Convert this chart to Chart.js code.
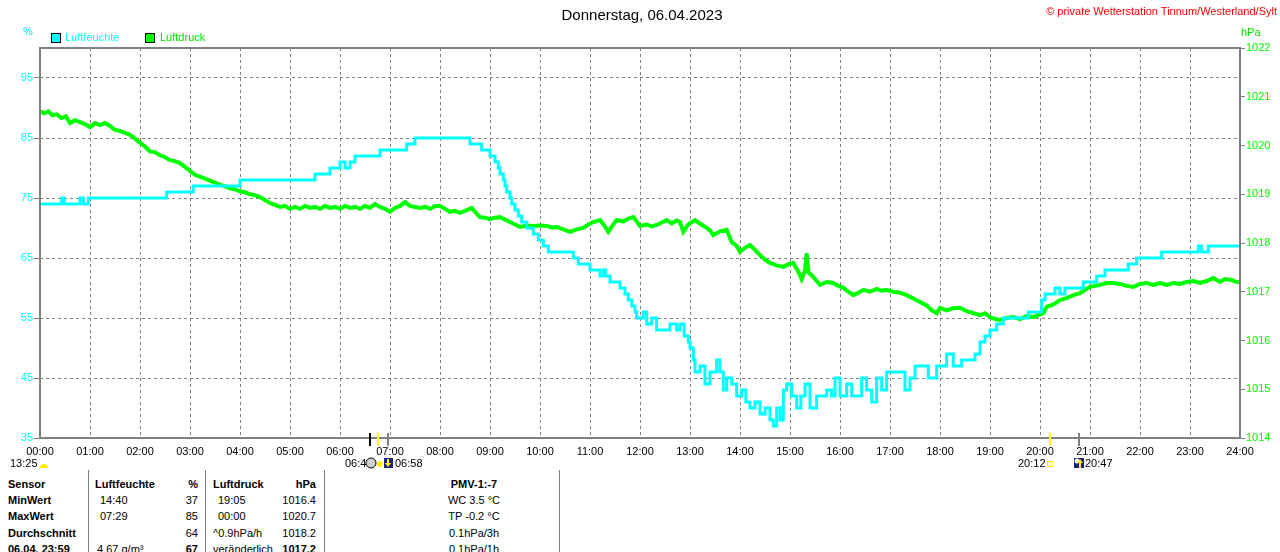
<!DOCTYPE html>
<html>
<head>
<meta charset="utf-8">
<script src="https://cdn.jsdelivr.net/npm/chart.js@4.4.1/dist/chart.umd.min.js"></script>
<style>
  body { margin: 0; background: #fff; font-family: "Liberation Sans", Arial, sans-serif; font-size: 11px; }
  #wrap { position: relative; width: 1280px; height: 552px; overflow: hidden; }
  #chart { position: absolute; left: 0; top: 0; }
  .t { position: absolute; white-space: nowrap; line-height: 13px; }
  .b { font-weight: bold; }
  .r { text-align: right; }
  .sep { position: absolute; top: 470px; width: 1px; height: 82px; background: #808080; }
  .box { position: absolute; width: 8px; height: 8px; border: 1px solid #000; }
</style>
</head>
<body>
<div id="wrap">
  <canvas id="chart" width="1280" height="470"></canvas>

  <div class="t" style="left:0;width:1284px;top:6px;font-size:15px;line-height:17px;text-align:center;">Donnerstag, 06.04.2023</div>
  <div class="t" style="right:3px;top:5px;font-size:11px;color:#ff0000;">© private Wetterstation Tinnum/Westerland/Sylt</div>

  <div class="t" style="left:23px;top:25px;color:#00e8f0;">%</div>
  <div class="t" style="left:1241px;top:26px;color:#00e000;">hPa</div>
  <div class="box" style="left:51px;top:33px;background:#00ffff;"></div>
  <div class="t" style="left:65px;top:31px;color:#00ffff;">Luftfeuchte</div>
  <div class="box" style="left:145px;top:33px;background:#00ff00;"></div>
  <div class="t" style="left:160px;top:31px;color:#00e000;">Luftdruck</div>

  <div class="t" style="left:10px;top:457px;">13:25</div>
  <div class="t" style="left:345px;top:457px;">06:4</div>
  <div class="t" style="left:395px;top:457px;">06:58</div>
  <div class="t" style="left:1018px;top:457px;">20:12</div>
  <div class="t" style="left:1085px;top:457px;">20:47</div>

  <div class="sep" style="left:88px;"></div>
  <div class="sep" style="left:205px;"></div>
  <div class="sep" style="left:324px;"></div>
  <div class="sep" style="left:559px;"></div>

  <div class="t b" style="left:8px;top:478px;">Sensor</div>
  <div class="t b" style="left:8px;top:494px;">MinWert</div>
  <div class="t b" style="left:8px;top:510px;">MaxWert</div>
  <div class="t b" style="left:8px;top:527px;">Durchschnitt</div>
  <div class="t b" style="left:8px;top:543px;">06.04. 23:59</div>

  <div class="t b" style="left:95px;top:478px;">Luftfeuchte</div>
  <div class="t" style="left:100px;top:494px;">14:40</div>
  <div class="t" style="left:100px;top:510px;">07:29</div>
  <div class="t" style="left:97px;top:543px;">4.67 g/m³</div>
  <div class="t b r" style="right:1082px;top:478px;">%</div>
  <div class="t r" style="right:1082px;top:494px;">37</div>
  <div class="t r" style="right:1082px;top:510px;">85</div>
  <div class="t r" style="right:1082px;top:527px;">64</div>
  <div class="t b r" style="right:1082px;top:543px;">67</div>

  <div class="t b" style="left:213px;top:478px;">Luftdruck</div>
  <div class="t" style="left:218px;top:494px;">19:05</div>
  <div class="t" style="left:218px;top:510px;">00:00</div>
  <div class="t" style="left:213px;top:527px;">^0.9hPa/h</div>
  <div class="t" style="left:213px;top:543px;">veränderlich</div>
  <div class="t b r" style="right:964px;top:478px;">hPa</div>
  <div class="t r" style="right:964px;top:494px;">1016.4</div>
  <div class="t r" style="right:964px;top:510px;">1020.7</div>
  <div class="t r" style="right:964px;top:527px;">1018.2</div>
  <div class="t b r" style="right:964px;top:543px;">1017.2</div>

  <div class="t b" style="left:324px;width:300px;text-align:center;top:478px;">PMV-1:-7</div>
  <div class="t" style="left:324px;width:300px;text-align:center;top:494px;">WC 3.5 °C</div>
  <div class="t" style="left:324px;width:300px;text-align:center;top:510px;">TP -0.2 °C</div>
  <div class="t" style="left:324px;width:300px;text-align:center;top:527px;">0.1hPa/3h</div>
  <div class="t" style="left:324px;width:300px;text-align:center;top:543px;">0.1hPa/1h</div>
</div>

<script>
// humidity (%) - minute of day where the value changes, and the new value
const humMin = [0, 26, 29, 48, 52, 58, 152, 184, 240, 330, 348, 360, 366, 372, 378, 408, 440, 450,
  516, 530, 540, 546, 550, 552, 556, 558, 560, 564, 566, 570, 574, 578, 584, 592, 598, 604, 610,
  640, 646, 660, 672, 676, 679, 684, 696, 702, 706, 710, 714, 716, 724, 728, 734, 740, 756, 764,
  768, 773, 778, 780, 784, 786, 792, 798, 804, 812, 816, 820, 824, 830, 836, 842, 847, 852, 858,
  864, 870, 876, 880, 884, 888, 892, 896, 902, 908, 913, 918, 924, 932, 944, 950, 954, 960, 968,
  974, 986, 992, 998, 1004, 1010, 1016, 1038, 1044, 1050, 1066, 1076, 1088, 1096, 1106, 1122,
  1128, 1134, 1140, 1148, 1156, 1186, 1202, 1206, 1218, 1224, 1230, 1252, 1268, 1278, 1306,
  1316, 1346, 1390, 1394, 1402, 1440];
const humVal = [74, 75, 74, 75, 74, 75, 76, 77, 78, 79, 80, 81, 80, 81, 82, 83, 84, 85,
  84, 83, 82, 81, 80, 79, 78, 77, 76, 75, 74, 73, 72, 71, 70, 69, 68, 67, 66,
  65, 64, 63, 62, 63, 62, 61, 60, 59, 58, 57, 56, 55, 56, 54, 55, 53, 54, 53,
  54, 52, 51, 50, 48, 46, 47, 44, 46, 48, 46, 43, 45, 44, 42, 43, 41, 40, 41,
  39, 40, 38, 37, 40, 38, 43, 44, 42, 40, 42, 44, 40, 42, 43, 42, 45, 42, 44,
  42, 45, 43, 41, 45, 43, 46, 43, 45, 47, 45, 47, 49, 47, 48, 49,
  51, 52, 53, 54, 55, 56, 58, 59, 60, 59, 60, 61, 62, 63, 64,
  65, 66, 67, 66, 67, 67];

// air pressure (hPa)
const presMin = [0, 5, 10, 15, 20, 26, 31, 36, 42, 48,
  54, 60, 66, 72, 78, 84, 90, 96, 102, 108,
  114, 120, 126, 132, 138, 144, 150, 156, 162, 168,
  174, 180, 186, 192, 198, 204, 210, 216, 222, 228,
  234, 240, 246, 252, 258, 264, 270, 276, 282, 288,
  294, 300, 306, 312, 318, 324, 330, 336, 342, 348,
  354, 360, 366, 372, 378, 384, 390, 396, 402, 408,
  414, 420, 426, 432, 438, 444, 450, 456, 462, 468,
  474, 480, 486, 492, 498, 504, 510, 518, 524, 528,
  534, 540, 546, 552, 558, 564, 570, 576, 584, 592,
  600, 608, 614, 620, 628, 636, 644, 652, 658, 664,
  672, 678, 682, 688, 692, 700, 706, 712, 716, 720,
  728, 734, 740, 746, 752, 758, 764, 768, 772, 778,
  786, 792, 800, 804, 808, 816, 824, 830, 836, 840,
  846, 852, 858, 864, 870, 876, 884, 892, 898, 904,
  910, 914, 918, 920, 922, 926, 932, 936, 944, 952,
  958, 964, 970, 976, 982, 988, 996, 1004, 1010, 1016,
  1024, 1032, 1040, 1048, 1056, 1064, 1070, 1076, 1080, 1088,
  1096, 1104, 1112, 1120, 1128, 1134, 1140, 1146, 1152, 1160,
  1168, 1176, 1184, 1192, 1198, 1204, 1208, 1216, 1224, 1230,
  1236, 1242, 1248, 1254, 1260, 1266, 1272, 1280, 1288, 1296,
  1304, 1312, 1320, 1328, 1336, 1344, 1352, 1360, 1368, 1376,
  1384, 1392, 1400, 1408, 1416, 1422, 1430, 1436, 1440];
const presVal = [1020.70, 1020.66, 1020.70, 1020.62, 1020.64, 1020.56, 1020.60, 1020.46, 1020.52, 1020.48,
  1020.44, 1020.38, 1020.46, 1020.42, 1020.46, 1020.40, 1020.32, 1020.30, 1020.26, 1020.22,
  1020.14, 1020.06, 1019.98, 1019.88, 1019.86, 1019.80, 1019.76, 1019.70, 1019.68, 1019.64,
  1019.56, 1019.48, 1019.40, 1019.36, 1019.32, 1019.28, 1019.24, 1019.20, 1019.16, 1019.12,
  1019.10, 1019.06, 1019.04, 1019.00, 1018.98, 1018.94, 1018.88, 1018.82, 1018.78, 1018.74,
  1018.76, 1018.70, 1018.74, 1018.70, 1018.76, 1018.72, 1018.74, 1018.70, 1018.76, 1018.72,
  1018.74, 1018.70, 1018.76, 1018.72, 1018.74, 1018.70, 1018.76, 1018.72, 1018.80, 1018.74,
  1018.70, 1018.64, 1018.72, 1018.76, 1018.84, 1018.76, 1018.74, 1018.72, 1018.74, 1018.70,
  1018.76, 1018.76, 1018.70, 1018.64, 1018.66, 1018.62, 1018.66, 1018.72, 1018.60, 1018.53,
  1018.52, 1018.49, 1018.52, 1018.53, 1018.48, 1018.43, 1018.38, 1018.33, 1018.36, 1018.35,
  1018.36, 1018.35, 1018.32, 1018.33, 1018.28, 1018.23, 1018.28, 1018.31, 1018.38, 1018.43,
  1018.47, 1018.34, 1018.23, 1018.38, 1018.47, 1018.44, 1018.50, 1018.53, 1018.44, 1018.35,
  1018.38, 1018.34, 1018.37, 1018.42, 1018.47, 1018.40, 1018.46, 1018.43, 1018.23, 1018.38,
  1018.47, 1018.40, 1018.31, 1018.26, 1018.16, 1018.24, 1018.27, 1018.02, 1017.94, 1017.82,
  1017.90, 1017.96, 1017.86, 1017.75, 1017.66, 1017.59, 1017.54, 1017.51, 1017.56, 1017.59,
  1017.41, 1017.26, 1017.44, 1017.79, 1017.40, 1017.34, 1017.22, 1017.14, 1017.20, 1017.18,
  1017.12, 1017.08, 1017.00, 1016.93, 1016.98, 1017.04, 1017.00, 1017.06, 1017.02, 1017.04,
  1017.00, 1016.98, 1016.93, 1016.86, 1016.79, 1016.72, 1016.62, 1016.56, 1016.67, 1016.62,
  1016.66, 1016.67, 1016.60, 1016.56, 1016.52, 1016.56, 1016.48, 1016.44, 1016.42, 1016.46,
  1016.48, 1016.44, 1016.50, 1016.48, 1016.52, 1016.56, 1016.69, 1016.74, 1016.83, 1016.86,
  1016.90, 1016.94, 1016.97, 1017.04, 1017.10, 1017.12, 1017.14, 1017.18, 1017.18, 1017.16,
  1017.12, 1017.10, 1017.16, 1017.18, 1017.14, 1017.18, 1017.14, 1017.18, 1017.16, 1017.20,
  1017.22, 1017.18, 1017.22, 1017.28, 1017.20, 1017.26, 1017.24, 1017.20, 1017.20];

const hourTicks = [0, 1, 2, 3, 4, 5, 6, 7, 8, 9, 10, 11, 12, 13, 14, 15, 16, 17, 18, 19, 20, 21, 22, 23, 24];
const pctTicks = [35, 45, 55, 65, 75, 85, 95];
const hpaTicks = [1014, 1015, 1016, 1017, 1018, 1019, 1020, 1021, 1022];

// sun / moon events shown as small marks under the time axis
const markTimes = ["06:36", "06:45", "06:58", "20:12", "20:47"];
const markColors = ["#000000", "#ffff00", "#808080", "#ffff00", "#808080"];

const toHours = s => { const [h, m] = s.split(":"); return +h + m / 60; };
const pts = (mins, vals) => mins.map((m, i) => ({x: m / 60, y: vals[i]}));

const GRID = "#808080";
const tickFont = {family: "'Liberation Sans', Arial, sans-serif", size: 11};

const framePlugin = {
  id: "frame",
  afterDatasetsDraw(chart) {
    const {ctx, chartArea: a} = chart;
    const xs = chart.scales.x;
    ctx.save();
    ctx.strokeStyle = GRID;
    ctx.lineWidth = 2;
    ctx.strokeRect(a.left, a.top, a.right - a.left, a.bottom - a.top);
    markTimes.forEach((t, i) => {
      const x = Math.round(xs.getPixelForValue(toHours(t)));
      ctx.strokeStyle = markColors[i];
      ctx.beginPath();
      ctx.moveTo(x, a.bottom - 5);
      ctx.lineTo(x, a.bottom + 8);
      ctx.stroke();
    });

    // little sun / moon icons next to the times
    ctx.fillStyle = "#ffee00";
    ctx.beginPath(); ctx.arc(44, 468, 4, Math.PI, 0); ctx.fill();

    ctx.fillStyle = "#d0d0d0"; ctx.strokeStyle = "#000"; ctx.lineWidth = 1;
    ctx.beginPath(); ctx.arc(371, 463, 5, 0, Math.PI * 2); ctx.fill(); ctx.stroke();
    ctx.fillStyle = "#ffee00";
    ctx.beginPath(); ctx.arc(380, 464, 3, 0, Math.PI * 2); ctx.fill();
    ctx.fillStyle = "#1a237e"; ctx.fillRect(384, 458, 9, 10);
    ctx.fillStyle = "#ffee00"; ctx.fillRect(387, 459, 2, 6);
    ctx.beginPath(); ctx.moveTo(385, 463); ctx.lineTo(391, 463); ctx.lineTo(388, 467); ctx.fill();

    ctx.strokeStyle = "#ffee00";
    ctx.strokeRect(1047.5, 461.5, 5, 5);
    ctx.fillStyle = "#1a237e"; ctx.fillRect(1074, 458, 10, 10);
    ctx.fillStyle = "#fff";
    ctx.beginPath(); ctx.arc(1077, 461, 2.5, 0, Math.PI * 2); ctx.fill();
    ctx.fillStyle = "#ffee00"; ctx.fillRect(1079, 462, 2, 6);
    ctx.beginPath(); ctx.moveTo(1077, 463); ctx.lineTo(1083, 463); ctx.lineTo(1080, 459); ctx.fill();
    ctx.restore();
  }
};

new Chart(document.getElementById("chart"), {
  type: "line",
  data: {
    datasets: [
      {
        label: "Luftfeuchte",
        data: pts(humMin, humVal),
        yAxisID: "yL",
        borderColor: "#00ffff",
        borderWidth: 3,
        stepped: true,
        pointRadius: 0
      },
      {
        label: "Luftdruck",
        data: pts(presMin, presVal),
        yAxisID: "yR",
        borderColor: "#00ff00",
        borderWidth: 4,
        tension: 0,
        pointRadius: 0
      }
    ]
  },
  options: {
    responsive: false,
    animation: false,
    events: [],
    layout: {padding: {top: 48, left: 0, right: 0, bottom: 0}},
    plugins: {legend: {display: false}, tooltip: {enabled: false}},
    scales: {
      x: {
        type: "linear",
        min: 0,
        max: 24,
        afterBuildTicks: s => { s.ticks = hourTicks.map(v => ({value: v})); },
        afterFit: s => { s.height = 32; },
        ticks: {
          color: "#000",
          font: tickFont,
          padding: 7,
          maxRotation: 0,
          autoSkip: false,
          callback: v => String(v).padStart(2, "0") + ":00"
        },
        grid: {color: GRID, lineWidth: 1, drawTicks: false},
        border: {display: false, dash: [3, 3]}
      },
      yL: {
        position: "left",
        min: 35,
        max: 100,
        afterBuildTicks: s => { s.ticks = pctTicks.map(v => ({value: v})); },
        afterFit: s => { s.width = 40; },
        ticks: {color: "#00ffff", font: tickFont, padding: 1, callback: v => String(v)},
        grid: {color: GRID, lineWidth: 1, tickLength: 6, tickColor: GRID},
        border: {display: false, dash: [3, 3]}
      },
      yR: {
        position: "right",
        min: 1014,
        max: 1022,
        afterBuildTicks: s => { s.ticks = hpaTicks.map(v => ({value: v})); },
        afterFit: s => { s.width = 40; },
        ticks: {color: "#00ff00", font: tickFont, padding: 1, callback: v => String(v)},
        grid: {drawOnChartArea: false, tickLength: 5, tickColor: GRID, lineWidth: 1},
        border: {display: false}
      }
    }
  },
  plugins: [framePlugin]
});
</script>
</body>
</html>
